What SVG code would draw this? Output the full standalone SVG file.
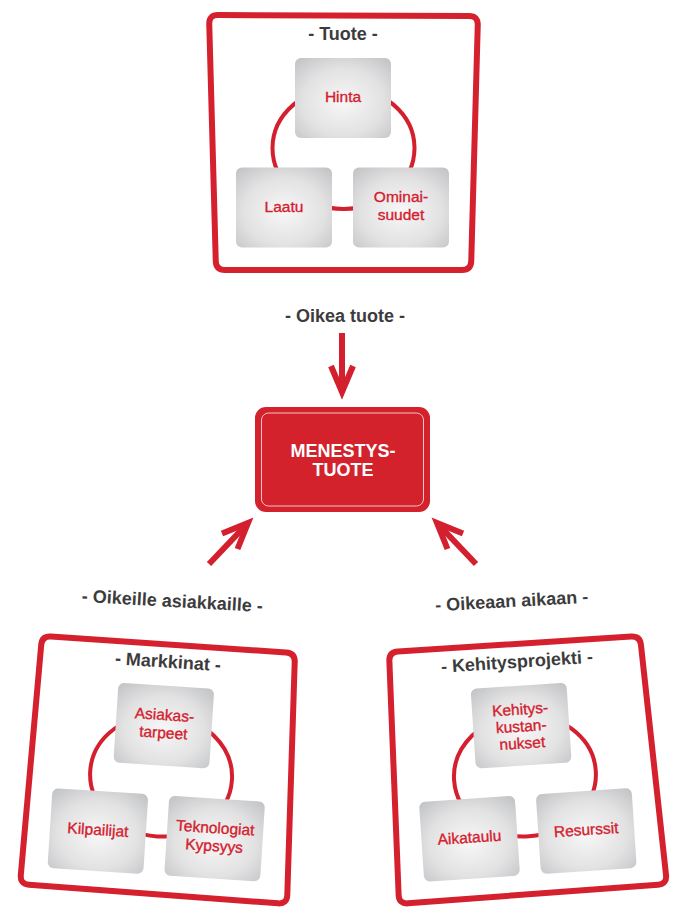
<svg xmlns="http://www.w3.org/2000/svg" width="680" height="916" viewBox="0 0 680 916">
<defs>
<radialGradient id="boxGrad" cx="0.5" cy="0.55" r="0.7">
<stop offset="0" stop-color="#f7f7f7"/>
<stop offset="0.6" stop-color="#e2e2e3"/>
<stop offset="1" stop-color="#c4c5c7"/>
</radialGradient>
<style>
.frame{fill:#fff;stroke:#d5202e;stroke-width:6}
.title{font-family:"Liberation Sans",Arial,sans-serif;font-weight:bold;font-size:18px;fill:#3c3c3c;text-anchor:middle}
.box{fill:url(#boxGrad)}
.lbl{font-family:"Liberation Sans",Arial,sans-serif;font-size:15.5px;fill:#d4202e;stroke:#d4202e;stroke-width:0.35;text-anchor:middle}
.ring{fill:none;stroke:#d4202e;stroke-width:4}
.arrow{fill:none;stroke:#d4202e;stroke-width:6;stroke-linejoin:miter}
.main{fill:#d3222b}
.mainline{fill:none;stroke:#f3c5c8;stroke-width:1}
.maintext{font-family:"Liberation Sans",Arial,sans-serif;font-weight:bold;font-size:18px;fill:#fff;text-anchor:middle}
</style>
</defs>
<rect width="680" height="916" fill="#fff"/>

<g id="panel-tuote">
<path class="frame" d="M218,15.04 L469,15.96 Q478,16 477.75,25 L471.25,261 Q471,270 462,270 L225,270 Q216,270 215.75,261 L209.25,24 Q209,15 218,15.04 Z"/>
<text class="title" x="343" y="40">- Tuote -</text>
</g>
<g id="panel-markkinat">
<path class="frame" d="M50.98,636.6 L286.02,652.4 Q295,653 294.71,662 L287.29,895 Q287,904 278.02,903.33 L28.98,884.67 Q20,884 20.8,875.04 L41.2,644.96 Q42,636 50.98,636.6 Z"/>
<text class="title" transform="translate(161,769) rotate(3.7)" x="0" y="-101.5">- Markkinat -</text>
</g>
<g id="panel-kehitysprojekti">
<path class="frame" d="M397.98,651.43 L631.02,636.57 Q640,636 640.97,644.95 L666.03,875.05 Q667,884 658.02,884.67 L407.98,903.33 Q399,904 398.64,895.01 L389.36,660.99 Q389,652 397.98,651.43 Z"/>
<text class="title" transform="translate(524,769) rotate(-3.8)" x="0" y="-101.5">- Kehitysprojekti -</text>
</g>

<g id="connectors">
<ellipse class="ring" transform="translate(343,141.5)" cx="0.5" cy="6.5" rx="71" ry="61"/>
<ellipse class="ring" transform="translate(161,769) rotate(3.7)" cx="0.5" cy="6.5" rx="71" ry="61"/>
<ellipse class="ring" transform="translate(524,769) rotate(-3.8)" cx="0.5" cy="6.5" rx="71" ry="61"/>
<path class="arrow" d="M342,333 V392"/>
<path class="arrow" d="M331,366 L342,392 L353,366"/>
<path class="arrow" d="M209,564 L248,523"/>
<path class="arrow" d="M222,533.5 L248,523 L237.5,549"/>
<path class="arrow" d="M476,564 L437,523"/>
<path class="arrow" d="M463,533.5 L437,523 L447.5,549"/>
<text class="title" x="345" y="322">- Oikea tuote -</text>
<text class="title" transform="translate(172,607) rotate(3.2)" x="0" y="0">- Oikeille asiakkaille -</text>
<text class="title" transform="translate(512,607) rotate(-3.2)" x="0" y="0">- Oikeaan aikaan -</text>
</g>

<g id="node-hinta" transform="translate(343,141.5)">
<rect class="box" x="-48" y="-83.5" width="96" height="80" rx="6"/>
<text class="lbl" x="0" y="-39.5">Hinta</text>
</g>
<g id="node-laatu" transform="translate(343,141.5)">
<rect class="box" x="-107" y="26" width="96" height="80" rx="6"/>
<text class="lbl" x="-59" y="70">Laatu</text>
</g>
<g id="node-ominaisuudet" transform="translate(343,141.5)">
<rect class="box" x="10" y="26" width="96" height="80" rx="6"/>
<text class="lbl" x="58" y="60.5">Ominai-</text>
<text class="lbl" x="58" y="78.5">suudet</text>
</g>

<g id="node-menestystuote">
<rect class="main" x="255" y="407" width="175" height="105" rx="11"/>
<rect class="mainline" x="261.5" y="413" width="162" height="93" rx="7"/>
<text class="maintext" x="343" y="457">MENESTYS-</text>
<text class="maintext" x="343" y="476">TUOTE</text>
</g>

<g id="node-asiakastarpeet" transform="translate(161,769) rotate(3.7)">
<rect class="box" x="-48" y="-83.5" width="96" height="80" rx="6"/>
<text class="lbl" x="0" y="-49">Asiakas-</text>
<text class="lbl" x="0" y="-31">tarpeet</text>
</g>
<g id="node-kilpailijat" transform="translate(161,769) rotate(3.7)">
<rect class="box" x="-107" y="26" width="96" height="80" rx="6"/>
<text class="lbl" x="-59" y="70">Kilpailijat</text>
</g>
<g id="node-teknologiat" transform="translate(161,769) rotate(3.7)">
<rect class="box" x="10" y="26" width="96" height="80" rx="6"/>
<text class="lbl" x="58" y="60.5">Teknologiat</text>
<text class="lbl" x="58" y="78.5">Kypsyys</text>
</g>

<g id="node-kehityskustannukset" transform="translate(524,769) rotate(-3.8)">
<rect class="box" x="-48" y="-83.5" width="96" height="80" rx="6"/>
<text class="lbl" x="0" y="-54.5">Kehitys-</text>
<text class="lbl" x="0" y="-37.5">kustan-</text>
<text class="lbl" x="0" y="-20.5">nukset</text>
</g>
<g id="node-aikataulu" transform="translate(524,769) rotate(-3.8)">
<rect class="box" x="-107" y="26" width="96" height="80" rx="6"/>
<text class="lbl" x="-59" y="70">Aikataulu</text>
</g>
<g id="node-resurssit" transform="translate(524,769) rotate(-3.8)">
<rect class="box" x="10" y="26" width="96" height="80" rx="6"/>
<text class="lbl" x="58" y="70">Resurssit</text>
</g>
</svg>
